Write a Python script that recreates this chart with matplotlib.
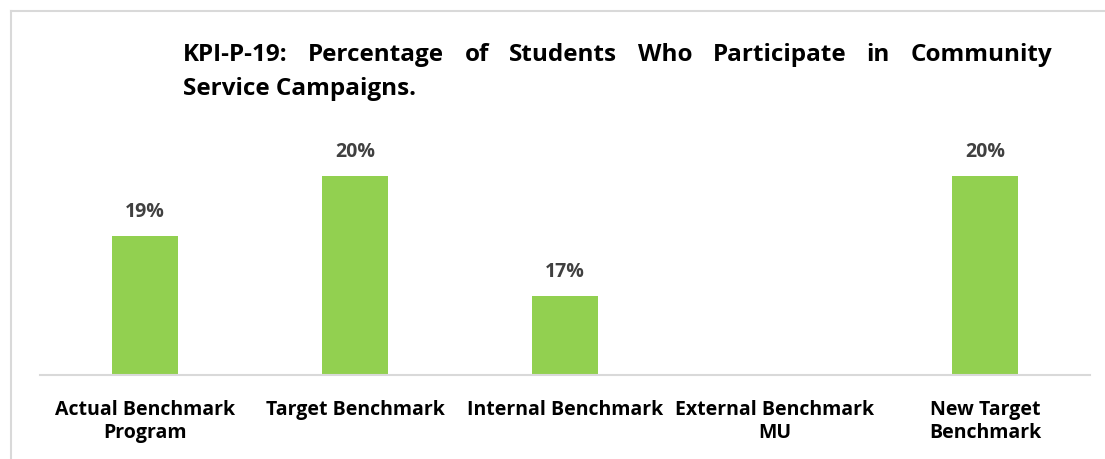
import matplotlib
matplotlib.use("Agg")
import matplotlib.pyplot as plt
from matplotlib.lines import Line2D
import numpy as np

# --- data ---
categories = ["Actual Benchmark\nProgram", "Target Benchmark", "Internal Benchmark",
              "External Benchmark\nMU", "New Target\nBenchmark"]
values = [18.8, 20.2, 17.4, np.nan, 20.2]
title_line1 = "KPI-P-19: Percentage of Students Who Participate in Community"
title_line2 = "Service Campaigns."

BAR_COLOR = "#92d050"
LABEL_COLOR = "#404040"
FONT = ["Open Sans", "DejaVu Sans"]

W, H = 1105, 459
fig = plt.figure(figsize=(W / 100, H / 100), dpi=100)
fig.patch.set_facecolor("white")

def px(x, y):
    # pixel (from top-left) -> figure fraction
    return x / W, 1 - y / H

ax = fig.add_axes([40 / W, (H - 375) / H, 1050 / W, 255 / H])
x = np.arange(len(categories))
ax.bar(x, values, width=0.315, color=BAR_COLOR, zorder=2)
ax.set_xlim(-0.5, len(categories) - 0.5)
ax.set_ylim(15.557, 21.507)

for xi, v in zip(x, values):
    if np.isnan(v):
        continue
    ax.annotate(f"{v:.0f}%", (xi, v), xytext=(0, 17), textcoords="offset points",
                ha="center", va="center", fontsize=14, fontweight="bold",
                color=LABEL_COLOR, family=FONT)

for s in ["top", "right", "left"]:
    ax.spines[s].set_visible(False)
ax.spines["bottom"].set_color("#d9d9d9")
ax.spines["bottom"].set_linewidth(1.5)
ax.set_yticks([])
ax.set_xticks(x)
ax.set_xticklabels(categories, fontsize=14, fontweight="bold", family=FONT,
                   linespacing=1.2)
ax.tick_params(axis="x", length=0, pad=18)

# outer chart border (left and top edges visible in crop)
fig.add_artist(Line2D([11 / W, 11 / W], [0, 1 - 11 / H], color="#d9d9d9", lw=1.5))
fig.add_artist(Line2D([11 / W, 1], [1 - 11 / H, 1 - 11 / H], color="#d9d9d9", lw=1.5))

# justified title, first line spread between x0 and x1
renderer = fig.canvas.get_renderer()
x0, x1 = 183, 1052
words = title_line1.split(" ")
texts = []
for w in words:
    t = fig.text(0, 0, w, fontsize=17.5, fontweight="bold", family=FONT,
                 color="black", va="center", ha="left")
    texts.append(t)
widths = [t.get_window_extent(renderer).width for t in texts]
gap = (x1 - x0 - sum(widths)) / (len(words) - 1)
cur = x0
for t, wd in zip(texts, widths):
    t.set_position(px(cur, 55))
    cur += wd + gap
fig.text(*px(x0, 89), title_line2, fontsize=17.5, fontweight="bold", family=FONT,
         color="black", va="center", ha="left")

fig.savefig("out.png", dpi=100, facecolor="white")
